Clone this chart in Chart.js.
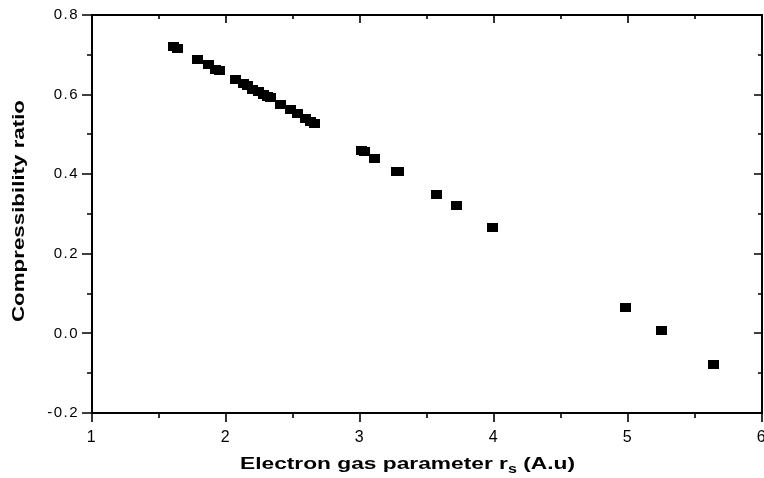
<!DOCTYPE html>
<html>
<head>
<meta charset="utf-8">
<script src="https://cdn.jsdelivr.net/npm/chart.js@4/dist/chart.umd.min.js"></script>
<style>
html,body{margin:0;padding:0;background:#fff;overflow:hidden;}
#wrap{width:764px;height:478px;position:relative;overflow:hidden;}
canvas{display:block;}
</style>
</head>
<body>
<div id="wrap"><canvas id="c" width="780" height="478"></canvas></div>
<script>
// Electron gas parameter r_s (A.u)
const rsValues = [1.61, 1.64, 1.79, 1.87, 1.92, 1.95, 2.07, 2.13, 2.16, 2.20, 2.24, 2.28, 2.31, 2.33, 2.41, 2.48, 2.53, 2.59, 2.63, 2.66, 3.01, 3.03, 3.11, 3.27, 3.29, 3.57, 3.72, 3.99, 4.98, 5.25, 5.64];
// Compressibility ratio
const ratioValues = [0.720, 0.717, 0.689, 0.675, 0.663, 0.661, 0.637, 0.628, 0.624, 0.614, 0.607, 0.600, 0.594, 0.592, 0.574, 0.562, 0.553, 0.541, 0.533, 0.527, 0.460, 0.458, 0.440, 0.408, 0.407, 0.350, 0.321, 0.265, 0.065, 0.008, -0.078];
const xTickValues = [1, 2, 3, 4, 5, 6];
const yTickValues = [-0.2, 0.0, 0.2, 0.4, 0.6, 0.8];
const xTitle = ['Electron gas parameter r', 's', ' (A.u)'];
const yTitle = 'Compressibility ratio';

const points = rsValues.map((x, i) => ({x: x, y: ratioValues[i]}));

// square marker (slightly wider than tall, as in the reference)
const marker = document.createElement('canvas');
marker.width = 11; marker.height = 9;
(function () { const m = marker.getContext('2d'); m.fillStyle = '#000'; m.fillRect(0, 0, 11, 9); })();

const FONT = '"Liberation Sans", Arial, Helvetica, sans-serif';

const frame = {
  id: 'frame',
  beforeDraw(chart) {
    chart.ctx.letterSpacing = '1.5px';
  },
  afterDraw(chart) {
    const {ctx, chartArea: a, scales} = chart;
    const xs = scales.x, ys = scales.y;
    ctx.save();
    ctx.letterSpacing = '0px';
    ctx.strokeStyle = '#000';
    ctx.lineWidth = 2;
    ctx.strokeRect(a.left, a.top, a.right - a.left, a.bottom - a.top);
    ctx.lineWidth = 1.6;
    ctx.beginPath();
    for (let k = 0; k <= 10; k++) {
      const v = xs.min + k * 0.5;
      const px = Math.round(xs.getPixelForValue(v));
      const major = k % 2 === 0;
      ctx.moveTo(px, a.bottom); ctx.lineTo(px, a.bottom + (major ? 9 : 5));
      ctx.moveTo(px, a.top); ctx.lineTo(px, a.top + (major ? 8 : 4));
    }
    for (let k = 0; k <= 10; k++) {
      const v = ys.min + k * 0.1;
      const py = Math.round(ys.getPixelForValue(v));
      const major = k % 2 === 0;
      ctx.moveTo(a.left, py); ctx.lineTo(a.left - (major ? 10 : 5), py);
      ctx.moveTo(a.right, py); ctx.lineTo(a.right - (major ? 8 : 4), py);
    }
    ctx.stroke();

    ctx.fillStyle = '#000';
    ctx.textBaseline = 'alphabetic';
    ctx.textAlign = 'left';
    // x title with subscript, stretched horizontally
    const big = 'bold 17px ' + FONT, small = 'bold 12px ' + FONT;
    ctx.font = big; const w1 = ctx.measureText(xTitle[0]).width;
    ctx.font = small; const w2 = ctx.measureText(xTitle[1]).width;
    ctx.font = big; const w3 = ctx.measureText(xTitle[2]).width;
    const xLeft = 240, xRight = 575;
    const sx = (xRight - xLeft) / (w1 + w2 + w3);
    ctx.save();
    ctx.translate(xLeft, 469);
    ctx.scale(sx, 1);
    ctx.font = big; ctx.fillText(xTitle[0], 0, 0);
    ctx.font = small; ctx.fillText(xTitle[1], w1, 4);
    ctx.font = big; ctx.fillText(xTitle[2], w1 + w2, 0);
    ctx.restore();
    // y title, rotated and stretched along its length
    ctx.save();
    ctx.translate(24, 211);
    ctx.rotate(-Math.PI / 2);
    ctx.font = 'bold 16px ' + FONT;
    const wy = ctx.measureText(yTitle).width;
    ctx.scale(222 / wy, 1);
    ctx.textAlign = 'center';
    ctx.fillText(yTitle, 0, 0);
    ctx.restore();
    ctx.restore();
  }
};

new Chart(document.getElementById('c'), {
  type: 'scatter',
  data: {
    datasets: [{
      data: points,
      pointStyle: marker,
      pointRadius: 6,
      pointHoverRadius: 6,
      backgroundColor: '#000',
      borderColor: '#000',
      borderWidth: 0
    }]
  },
  options: {
    responsive: false,
    animation: false,
    events: [],
    layout: {padding: {left: 0, right: 18, top: 15, bottom: 0}},
    plugins: {legend: {display: false}, tooltip: {enabled: false}},
    scales: {
      x: {
        type: 'linear', min: 1, max: 6,
        afterBuildTicks(s) { s.ticks = xTickValues.map(v => ({value: v})); },
        afterFit(s) { s.height = 65; },
        grid: {display: true, drawOnChartArea: false, drawTicks: true, tickLength: 9, color: 'rgba(0,0,0,0)'},
        border: {display: false},
        ticks: {color: '#000', padding: 6, maxRotation: 0, autoSkip: false,
          font: {family: FONT, size: 16},
          callback: v => String(v)}
      },
      y: {
        type: 'linear', min: -0.2, max: 0.8,
        afterBuildTicks(s) { s.ticks = yTickValues.map(v => ({value: v})); },
        afterFit(s) { s.width = 92; },
        grid: {display: true, drawOnChartArea: false, drawTicks: true, tickLength: 10, color: 'rgba(0,0,0,0)'},
        border: {display: false},
        ticks: {color: '#000', padding: 3, autoSkip: false,
          font: {family: FONT, size: 15},
          callback: v => (Math.round(v * 10) / 10).toFixed(1)}
      }
    }
  },
  plugins: [frame]
});
</script>
</body>
</html>
